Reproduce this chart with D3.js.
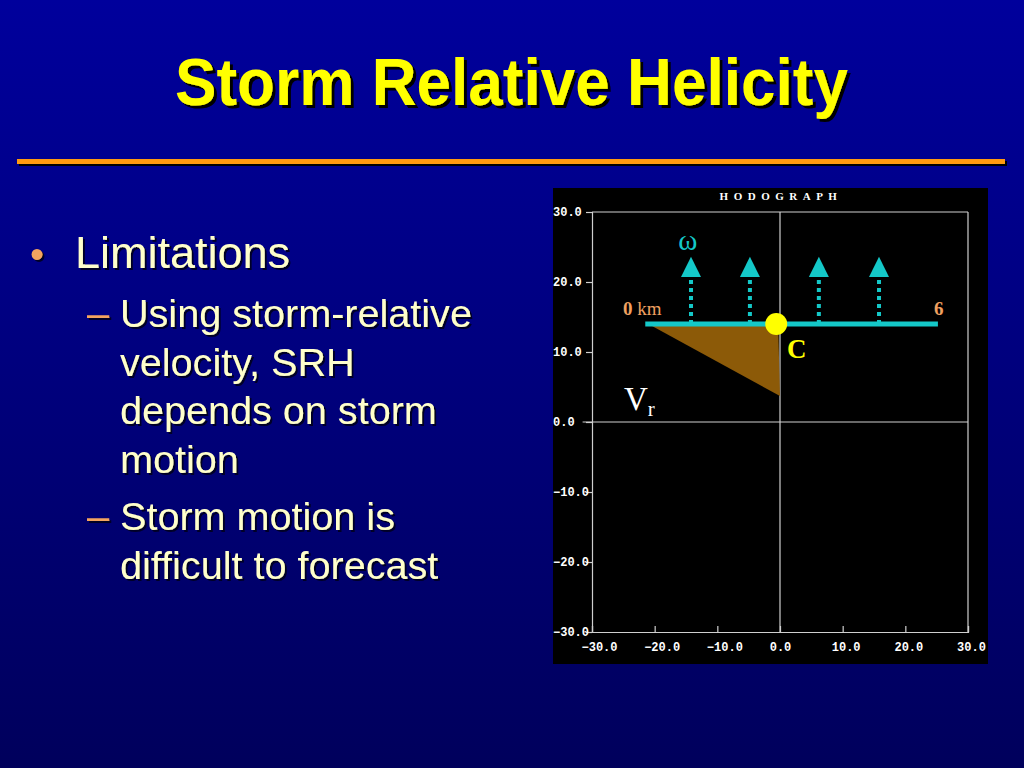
<!DOCTYPE html>
<html>
<head>
<meta charset="utf-8">
<script src="https://cdn.jsdelivr.net/npm/d3@7"></script>
<style>
  html, body { margin: 0; padding: 0; background: #000080; }
  svg { display: block; }
</style>
</head>
<body>
<div id="slide"></div>
<script>
// Slide text
const titleText = "Storm Relative Helicity";
const bulletMain = "Limitations";
const subBullets = [
    ["Using storm-relative", "velocity, SRH", "depends on storm", "motion"],
    ["Storm motion is", "difficult to forecast"]
];

// Hodograph values (m/s)
const xTicks = [-30, -20, -10, 0, 10, 20, 30];
const yTicks = [-30, -20, -10, 0, 10, 20, 30];
const hodoLine = [[-21.5, 14], [25.2, 14]];          // 0 km -> 6 km
const srhArea = [[-21, 14], [-0.3, 14], [0, 3.7]];   // shaded area
const arrowX = [-14.2, -4.8, 6.2, 15.8];             // vorticity arrows
const arrowBase = 14, arrowNeck = 20.7, arrowTip = 23.6;
const stormMotion = [-0.6, 14];                       // point C

const width = 1024;
const height = 768;

const svg = d3.select("#slide")
    .append("svg")
    .attr("width", width)
    .attr("height", height);

const defs = svg.append("defs");
const grad = defs.append("linearGradient")
    .attr("id", "bg")
    .attr("x1", 0).attr("y1", 0).attr("x2", 0).attr("y2", 1);
grad.append("stop").attr("offset", "0%").attr("stop-color", "#00009c");
grad.append("stop").attr("offset", "100%").attr("stop-color", "#00005c");

// drop shadows
const shadow = (id, off, col) => defs.append("filter")
    .attr("id", id).attr("x", "-10%").attr("y", "-20%").attr("width", "120%").attr("height", "140%")
    .append("feDropShadow")
    .attr("dx", off).attr("dy", off).attr("stdDeviation", 0.6)
    .attr("flood-color", col).attr("flood-opacity", 1);
shadow("titleShadow", 3, "#000");
shadow("textShadow", 2, "#000028");

svg.append("rect")
    .attr("width", width)
    .attr("height", height)
    .attr("fill", "url(#bg)");

// Title
const sans = "'Liberation Sans', Arial, sans-serif";
svg.append("text")
    .attr("x", 175)
    .attr("y", 105)
    .attr("font-family", sans)
    .attr("font-weight", "bold")
    .attr("font-size", 66)
    .attr("textLength", 673)
    .attr("lengthAdjust", "spacingAndGlyphs")
    .attr("fill", "#ffff00")
    .attr("filter", "url(#titleShadow)")
    .text(titleText);

// Orange rule
svg.append("rect").attr("x", 19).attr("y", 161).attr("width", 988).attr("height", 5).attr("fill", "#000");
svg.append("rect").attr("x", 17).attr("y", 159).attr("width", 988).attr("height", 5).attr("fill", "#ff9a10");

// Bullets
function slideText(xp, yp, str, size, color) {
    svg.append("text").attr("x", xp).attr("y", yp)
        .attr("font-family", sans).attr("font-size", size)
        .attr("fill", color).attr("filter", "url(#textShadow)")
        .text(str);
}

slideText(30, 268, "•", 40, "#f4a460");
slideText(75, 268, bulletMain, 45, "#ffffcc");

let lineY = 327;
subBullets.forEach(item => {
    slideText(87, lineY, "–", 40, "#f4a460");
    item.forEach(line => {
        slideText(120, lineY, line, 39.6, "#ffffcc");
        lineY += 48.5;
    });
    lineY += 9;
});

// Hodograph panel
const x = d3.scaleLinear().domain([-30, 30]).range([592, 968]);
const y = d3.scaleLinear().domain([-30, 30]).range([632, 212]);

svg.append("rect")
    .attr("x", 553).attr("y", 188)
    .attr("width", 435).attr("height", 476)
    .attr("fill", "#000");

svg.append("text")
    .attr("x", 781).attr("y", 200)
    .attr("text-anchor", "middle")
    .attr("font-family", "'Liberation Serif', serif")
    .attr("font-weight", "bold")
    .attr("font-size", 11)
    .attr("letter-spacing", 5.5)
    .attr("fill", "#fff")
    .text("HODOGRAPH");

const gridColor = "#cfcfcf";
const tickFont = "'Liberation Mono', 'DejaVu Sans Mono', monospace";

// frame and zero lines
svg.append("line").attr("x1", x(-30)).attr("x2", x(30)).attr("y1", y(30)).attr("y2", y(30))
    .attr("stroke", gridColor).attr("stroke-width", 1.2);
svg.append("line").attr("x1", x(30)).attr("x2", x(30)).attr("y1", y(30)).attr("y2", y(-30))
    .attr("stroke", gridColor).attr("stroke-width", 1.2);
svg.append("line").attr("x1", x(-31.5)).attr("x2", x(30)).attr("y1", y(0)).attr("y2", y(0))
    .attr("stroke", gridColor).attr("stroke-width", 1.2);
svg.append("line").attr("x1", x(0)).attr("x2", x(0)).attr("y1", y(30)).attr("y2", y(-30))
    .attr("stroke", gridColor).attr("stroke-width", 1.2);

const yAxis = svg.append("g")
    .attr("transform", `translate(${x(-30)},0)`)
    .call(d3.axisLeft(y).tickValues(yTicks).tickSize(6).tickFormat(d3.format(".1f")));
yAxis.selectAll("text").attr("text-anchor", "start").attr("x", -39);

const xAxis = svg.append("g")
    .attr("transform", `translate(0,${y(-30)})`)
    .call(d3.axisBottom(x).tickValues(xTicks).tickSize(-6).tickPadding(10).tickFormat(d3.format(".1f")));

[yAxis, xAxis].forEach(g => {
    g.select(".domain").attr("stroke", gridColor).attr("stroke-width", 1.2);
    g.selectAll(".tick line").attr("stroke", gridColor).attr("stroke-width", 1.2);
    g.selectAll("text")
        .attr("fill", "#fff")
        .attr("font-family", tickFont)
        .attr("font-weight", "bold")
        .attr("font-size", 12);
});
xAxis.selectAll("text").attr("dx", d => d < 0 ? 7 : (d > 0 ? 3 : 0));

// shaded SRH area
svg.append("path")
    .datum(srhArea)
    .attr("d", d3.line().x(d => x(d[0])).y(d => y(d[1])).curve(d3.curveLinearClosed))
    .attr("fill", "#8c5a08");

// vorticity arrows
const cyan = "#14c8c8";
arrowX.forEach(ax => {
    svg.append("line")
        .attr("x1", x(ax)).attr("x2", x(ax))
        .attr("y1", y(arrowBase)).attr("y2", y(arrowNeck))
        .attr("stroke", cyan).attr("stroke-width", 4)
        .attr("stroke-dasharray", "4,4");
    svg.append("path")
        .attr("d", `M${x(ax) - 10},${y(arrowNeck)} L${x(ax) + 10},${y(arrowNeck)} L${x(ax)},${y(arrowTip)} Z`)
        .attr("fill", cyan);
});

// hodograph line
svg.append("path")
    .datum(hodoLine)
    .attr("d", d3.line().x(d => x(d[0])).y(d => y(d[1])))
    .attr("stroke", cyan).attr("stroke-width", 5).attr("fill", "none");

// storm motion point
svg.append("circle")
    .attr("cx", x(stormMotion[0])).attr("cy", y(stormMotion[1]))
    .attr("r", 11).attr("fill", "#ffff00");

// labels
const serif = "'Liberation Serif', 'Times New Roman', serif";
svg.append("text").attr("x", x(-14.7)).attr("y", y(24.6))
    .attr("text-anchor", "middle").attr("font-family", serif).attr("font-size", 29)
    .attr("fill", cyan).text("ω");

const kmLabel = svg.append("text").attr("x", 623).attr("y", 315)
    .attr("font-family", serif).attr("font-size", 19).attr("fill", "#f0a060");
kmLabel.append("tspan").attr("font-weight", "bold").text("0");
kmLabel.append("tspan").text(" km");

svg.append("text").attr("x", 934).attr("y", 315)
    .attr("font-family", serif).attr("font-weight", "bold").attr("font-size", 19)
    .attr("fill", "#f0a060").text("6");

svg.append("text").attr("x", 787).attr("y", 358)
    .attr("font-family", serif).attr("font-weight", "bold").attr("font-size", 27)
    .attr("fill", "#ffff00").text("C");

const vr = svg.append("text").attr("x", 624).attr("y", 410)
    .attr("font-family", serif).attr("font-size", 33).attr("fill", "#fff");
vr.append("tspan").text("V");
vr.append("tspan").attr("font-size", 21).attr("dy", 6).text("r");
</script>
</body>
</html>
